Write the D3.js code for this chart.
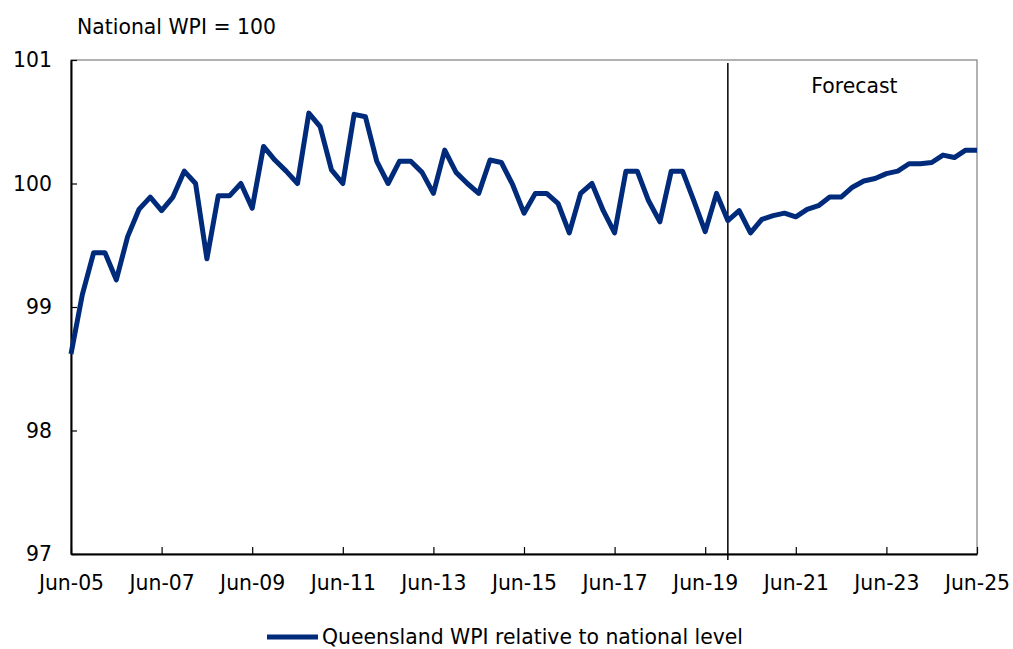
<!DOCTYPE html>
<html>
<head>
<meta charset="utf-8">
<script src="https://cdn.jsdelivr.net/npm/d3@7"></script>
<style>
  body { margin: 0; background: #fff; }
  svg { display: block; }
  text { font-family: Verdana, "DejaVu Sans", sans-serif; font-size: 20.4px; fill: #000; }
</style>
</head>
<body>
<svg id="chart" width="1013" height="649"></svg>
<script>
// Queensland WPI relative to national level, quarterly Jun-05 .. Jun-25
const startDate = new Date(2005, 5, 1);
const quarters = d3.range(81).map(i => d3.timeMonth.offset(startDate, 3 * i));
const quarterLabels = quarters.map(d3.timeFormat('%b-%y'));

const qldRelative = [
  98.62, 99.10, 99.44, 99.44, 99.22, 99.57, 99.79, 99.89, 99.78, 99.89,
  100.10, 100.00, 99.39, 99.90, 99.90, 100.00, 99.80, 100.30, 100.19, 100.10,
  100.00, 100.57, 100.46, 100.11, 100.00, 100.56, 100.54, 100.18, 100.00, 100.18,
  100.18, 100.09, 99.92, 100.27, 100.09, 100.00, 99.92, 100.19, 100.17, 99.99,
  99.76, 99.92, 99.92, 99.84, 99.60, 99.92, 100.00, 99.78, 99.60, 100.10,
  100.10, 99.86, 99.69, 100.10, 100.10, 99.86, 99.61, 99.92, 99.70, 99.78,
  99.60, 99.71, 99.74, 99.76, 99.73, 99.79, 99.82, 99.89, 99.89, 99.97,
  100.02, 100.04, 100.08, 100.10, 100.16, 100.16, 100.17, 100.23, 100.21, 100.27,
  100.27
];

const xTickLabels = ['Jun-05', 'Jun-07', 'Jun-09', 'Jun-11', 'Jun-13', 'Jun-15',
  'Jun-17', 'Jun-19', 'Jun-21', 'Jun-23', 'Jun-25'];
const yTicks = [97, 98, 99, 100, 101];
const forecastStart = 'Dec-19';

const margin = { top: 60, right: 36, bottom: 95, left: 71 };
const width = 1013, height = 649;
const innerW = width - margin.left - margin.right;
const innerH = height - margin.top - margin.bottom;

const svg = d3.select('#chart');
const g = svg.append('g').attr('transform', `translate(${margin.left},${margin.top})`);

const x = d3.scalePoint().domain(quarterLabels).range([0, innerW]);
const y = d3.scaleLinear().domain([97, 101]).range([innerH, 0]);

// frame (top / right)
g.append('rect')
  .attr('x', 0).attr('y', 0)
  .attr('width', innerW).attr('height', innerH)
  .attr('fill', 'none')
  .attr('stroke', '#7f7f7f')
  .attr('stroke-width', 1.2);

// axes
const xAxis = g.append('g')
  .attr('transform', `translate(0,${innerH})`)
  .call(d3.axisBottom(x).tickValues(xTickLabels).tickSizeInner(-7).tickSizeOuter(0).tickPadding(22));
const yAxis = g.append('g')
  .call(d3.axisLeft(y).tickValues(yTicks).tickFormat(d3.format('d')).tickSizeInner(-6).tickSizeOuter(0).tickPadding(19));

[xAxis, yAxis].forEach(a => {
  a.select('.domain').attr('stroke', '#000').attr('stroke-width', 2);
  a.selectAll('.tick line').attr('stroke', '#000').attr('stroke-width', 1.2);
  a.selectAll('text').attr('font-family', null).attr('font-size', null);
});

// forecast divider
g.append('line')
  .attr('x1', x(forecastStart)).attr('x2', x(forecastStart))
  .attr('y1', 3).attr('y2', innerH + 6)
  .attr('stroke', '#000')
  .attr('stroke-width', 1.5);

g.append('text')
  .attr('x', (x(forecastStart) + innerW) / 2 + 2)
  .attr('y', 33)
  .attr('text-anchor', 'middle')
  .text('Forecast');

// series line
const line = d3.line()
  .x((d, i) => x(quarterLabels[i]))
  .y(d => y(d));

g.append('path')
  .datum(qldRelative)
  .attr('fill', 'none')
  .attr('stroke', '#002a7a')
  .attr('stroke-width', 5)
  .attr('stroke-linejoin', 'round')
  .attr('d', line);

// unit note
svg.append('text')
  .attr('x', 77)
  .attr('y', 34)
  .text('National WPI = 100');

// legend
const legend = svg.append('g').attr('transform', 'translate(267,637)');
legend.append('line')
  .attr('x1', 0).attr('x2', 51)
  .attr('y1', 0).attr('y2', 0)
  .attr('stroke', '#002a7a')
  .attr('stroke-width', 5);
legend.append('text')
  .attr('x', 55)
  .attr('y', 7)
  .text('Queensland WPI relative to national level');
</script>
</body>
</html>
